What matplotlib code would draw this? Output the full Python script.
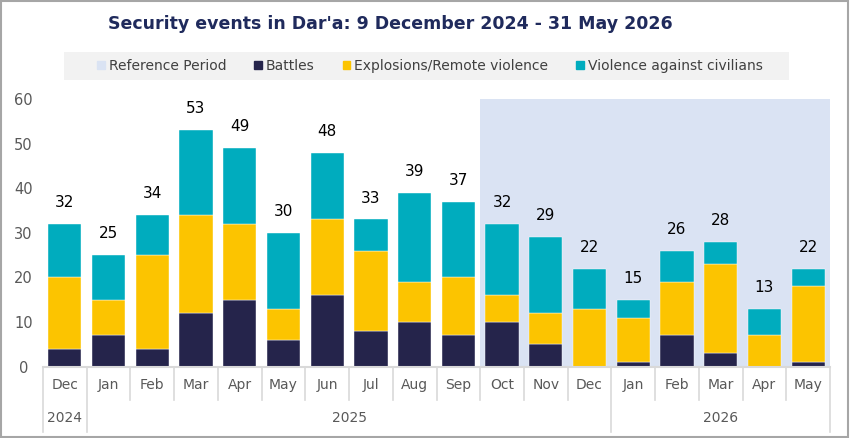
import matplotlib.pyplot as plt
from matplotlib.patches import Patch, Rectangle
from matplotlib.transforms import blended_transform_factory
import numpy as np

months = ["Dec", "Jan", "Feb", "Mar", "Apr", "May", "Jun", "Jul", "Aug", "Sep",
          "Oct", "Nov", "Dec", "Jan", "Feb", "Mar", "Apr", "May"]
years = ["2024", "2025", "2026"]
year_spans = [(0, 0), (1, 12), (13, 17)]

battles = [4, 7, 4, 12, 15, 6, 16, 8, 10, 7, 10, 5, 0, 1, 7, 3, 0, 1]
explosions = [16, 8, 21, 22, 17, 7, 17, 18, 9, 13, 6, 7, 13, 10, 12, 20, 7, 17]
civilians = [12, 10, 9, 19, 17, 17, 15, 7, 20, 17, 16, 17, 9, 4, 7, 5, 6, 4]
ref_start = 10  # Oct 2025 onwards

C_BAT = "#25244b"
C_EXP = "#fcc400"
C_CIV = "#00acbe"
C_REF = "#dae3f3"
C_TXT = "#595959"
C_SEP = "#d9d9d9"

fig = plt.figure(figsize=(8.5, 4.38), dpi=100)
ax = fig.add_axes([43 / 850, 1 - 366.7 / 438, (830 - 43) / 850, (366.7 - 99) / 438])

x = np.arange(len(months))
b = np.array(battles)
e = np.array(explosions)
c = np.array(civilians)
tot = b + e + c

ax.axvspan(ref_start - 0.5, len(months) - 0.5, color=C_REF, lw=0, zorder=0)
w = 0.76
ax.bar(x, b, w, color=C_BAT, edgecolor="white", linewidth=0.3, zorder=2)
ax.bar(x, e, w, bottom=b, color=C_EXP, edgecolor="white", linewidth=0.3, zorder=2)
ax.bar(x, c, w, bottom=b + e, color=C_CIV, edgecolor="white", linewidth=0.3, zorder=2)

for xi, t in zip(x, tot):
    ax.annotate(str(t), (xi, t), xytext=(0, 10), textcoords="offset points",
                ha="center", va="bottom", fontsize=11, color="black")

ax.set_xlim(-0.5, len(months) - 0.5)
ax.set_ylim(0, 60)
ax.set_yticks(range(0, 61, 10))
ax.tick_params(axis="y", length=0, pad=14, labelsize=10.5, labelcolor=C_TXT)
for lab in ax.get_yticklabels():
    lab.set_horizontalalignment("center")
ax.set_xticks([])
for s in ["top", "right", "left"]:
    ax.spines[s].set_visible(False)
ax.spines["bottom"].set_color(C_SEP)
ax.spines["bottom"].set_linewidth(1.5)

tr = blended_transform_factory(ax.transData, ax.transAxes)
for i, m in enumerate(months):
    ax.text(i, -0.068, m, transform=tr, ha="center", va="center",
            fontsize=10, color=C_TXT)
long_edges = set()
for (a, z), yr in zip(year_spans, years):
    ax.text((a + z) / 2, -0.19, yr, transform=tr, ha="center", va="center",
            fontsize=10, color=C_TXT)
    long_edges.add(a)
    long_edges.add(z + 1)
for k in range(len(months) + 1):
    y1 = -0.245 if k in long_edges else -0.124
    ax.plot([k - 0.5, k - 0.5], [0, y1], transform=tr, color=C_SEP,
            lw=1.2, clip_on=False)

fig.text(390 / 850, 1 - 24 / 438, "Security events in Dar'a: 9 December 2024 - 31 May 2026",
         ha="center", va="center", fontsize=12.5, fontweight="bold", color="#1f2a5c")

fig.patches.append(Rectangle((64 / 850, 1 - 80 / 438), (789 - 64) / 850, 28 / 438,
                             transform=fig.transFigure, facecolor="#f2f2f2",
                             edgecolor="none", zorder=0))
handles = [Patch(color=C_REF), Patch(color=C_BAT), Patch(color=C_EXP), Patch(color=C_CIV)]
labels = ["Reference Period", "Battles", "Explosions/Remote violence", "Violence against civilians"]
fig.legend(handles, labels, loc="center", bbox_to_anchor=(430 / 850, 1 - 66 / 438),
           ncol=4, frameon=False, fontsize=10, handlelength=0.55, handleheight=0.55,
           handletextpad=0.3, columnspacing=2.0, labelcolor="#404040")

fig.patches.append(Rectangle((0.001, 0.002), 0.997, 0.995, transform=fig.transFigure,
                             facecolor="none", edgecolor="#a6a6a6", lw=1.5))

fig.savefig("out.png", dpi=100)
